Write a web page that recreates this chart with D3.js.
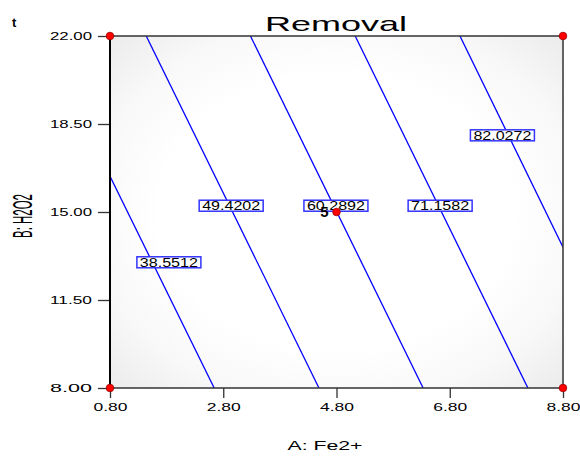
<!DOCTYPE html>
<html>
<head>
<meta charset="utf-8">
<script src="https://cdn.jsdelivr.net/npm/d3@7"></script>
<style>
  html, body { margin: 0; padding: 0; background: #fff; }
  svg { display: block; font-family: Arial, "Liberation Sans", sans-serif; }
</style>
</head>
<body>
<svg id="chart" width="580" height="463"></svg>
<script>
// Contour levels of the response surface and where each line crosses the frame (A, B)
const levels   = [38.5512, 49.4202, 60.2892, 71.1582, 82.0272];
const lineA    = [[0.80, 2.64], [1.44, 4.49], [3.28, 6.33], [5.13, 8.18], [6.98, 8.80]];
const lineB    = [[16.42, 8.00], [22.00, 8.00], [22.00, 8.00], [22.00, 8.00], [22.00, 13.60]];
// Label anchor for each contour (A, B)
const labelA   = [1.84, 2.94, 4.79, 6.63, 7.73];
const labelB   = [13.00, 15.25, 15.25, 15.25, 18.05];
// Design points
const designA  = [0.8, 0.8, 8.8, 8.8, 4.8];
const designB  = [8.0, 22.0, 8.0, 22.0, 15.0];
const centerReps = "5";
// Axis ticks
const xTicks = [0.8, 2.8, 4.8, 6.8, 8.8];
const yTicks = [8.0, 11.5, 15.0, 18.5, 22.0];

const svg = d3.select("#chart");
const x = d3.scaleLinear().domain([0.8, 8.8]).range([110, 563]);
const y = d3.scaleLinear().domain([8, 22]).range([388, 36]);

// Background shading (slightly darker toward the corners of the design space)
const defs = svg.append("defs");
const grad = defs.append("radialGradient").attr("id", "shade")
  .attr("cx", 0.5).attr("cy", 0.5).attr("r", 0.707);
[[0, "#ffffff"], [0.55, "#ffffff"], [0.78, "#f8f8f8"], [1, "#ebebeb"]].forEach(([o, c]) =>
  grad.append("stop").attr("offset", o).attr("stop-color", c));
defs.append("clipPath").attr("id", "plotclip").append("rect")
  .attr("x", x(0.8)).attr("y", y(22)).attr("width", x(8.8) - x(0.8)).attr("height", y(8) - y(22));

svg.append("rect")
  .attr("x", x(0.8)).attr("y", y(22))
  .attr("width", x(8.8) - x(0.8)).attr("height", y(8) - y(22))
  .attr("fill", "url(#shade)");

// Contour lines
const plot = svg.append("g").attr("clip-path", "url(#plotclip)");
const line = d3.line().x(d => x(d[0])).y(d => y(d[1]));
levels.forEach((lv, i) => {
  const pts = lineA[i].map((a, j) => [a, lineB[i][j]]);
  plot.append("path").attr("d", line(pts))
    .attr("fill", "none").attr("stroke", "#0000ff").attr("stroke-width", 1.3);
});

// Frame
svg.append("rect")
  .attr("x", x(0.8)).attr("y", y(22))
  .attr("width", x(8.8) - x(0.8)).attr("height", y(8) - y(22))
  .attr("fill", "none").attr("stroke", "#333").attr("stroke-width", 1.5);

// Contour labels
const lw = 64, lh = 11;
levels.forEach((lv, i) => {
  const cx = x(labelA[i]), cy = y(labelB[i]);
  svg.append("rect")
    .attr("x", cx - lw / 2).attr("y", cy - lh / 2).attr("width", lw).attr("height", lh)
    .attr("fill", "#fff").attr("stroke", "#3333ff").attr("stroke-width", 1.5);
  svg.append("text")
    .attr("x", cx - lw / 2 + 3).attr("y", cy + 4.5)
    .attr("font-size", 12).attr("fill", "#000")
    .attr("textLength", lw - 6).attr("lengthAdjust", "spacingAndGlyphs")
    .text(lv.toFixed(4));
});

// Axes
const yAxis = svg.append("g").attr("transform", `translate(${x(0.8)},0)`)
  .call(d3.axisLeft(y).tickValues(yTicks).tickFormat(d3.format(".2f")).tickSize(12).tickPadding(6));
const xAxis = svg.append("g").attr("transform", `translate(0,${y(8)})`)
  .call(d3.axisBottom(x).tickValues(xTicks).tickFormat(d3.format(".2f")).tickSize(10).tickPadding(5));
[yAxis, xAxis].forEach(g => {
  g.select(".domain").remove();
  g.selectAll(".tick line").attr("stroke", "#333").attr("stroke-width", 1.3);
  g.selectAll(".tick text").attr("font-size", 11).attr("fill", "#000")
    .attr("font-family", "Arial, 'Liberation Sans', sans-serif")
    .attr("lengthAdjust", "spacingAndGlyphs");
});
yAxis.selectAll(".tick text").attr("textLength", 42);
xAxis.selectAll(".tick text").attr("textLength", 34);
// Heavier left axis line
svg.append("line").attr("x1", x(0.8)).attr("x2", x(0.8)).attr("y1", y(22)).attr("y2", y(8))
  .attr("stroke", "#000").attr("stroke-width", 2);

// Center replicate count and design points
svg.append("text")
  .attr("x", x(4.8) - 8).attr("y", y(15) + 5)
  .attr("text-anchor", "end").attr("font-size", 15).attr("font-weight", "bold")
  .attr("fill", "#000").text(centerReps);
designA.forEach((a, i) => {
  svg.append("circle").attr("cx", x(a)).attr("cy", y(designB[i])).attr("r", 3.8)
    .attr("fill", "#ff0000").attr("stroke", "#990000").attr("stroke-width", 0.8);
});

// Titles
svg.append("text").attr("x", 336).attr("y", 31).attr("text-anchor", "middle")
  .attr("font-size", 21).attr("fill", "#000")
  .attr("textLength", 142).attr("lengthAdjust", "spacingAndGlyphs").text("Removal");
svg.append("text").attr("x", 12).attr("y", 27)
  .attr("font-size", 13).attr("font-weight", "bold").attr("fill", "#000").text("t");
svg.append("text").attr("x", 325).attr("y", 450).attr("text-anchor", "middle")
  .attr("font-size", 13).attr("fill", "#000")
  .attr("textLength", 75).attr("lengthAdjust", "spacingAndGlyphs").text("A: Fe2+");
// Condensed vertical axis title
svg.append("text")
  .attr("transform", "translate(32,216) rotate(-90) scale(0.41,1)")
  .attr("text-anchor", "middle").attr("font-size", 28).attr("fill", "#000")
  .text("B: H2O2");
</script>
</body>
</html>
